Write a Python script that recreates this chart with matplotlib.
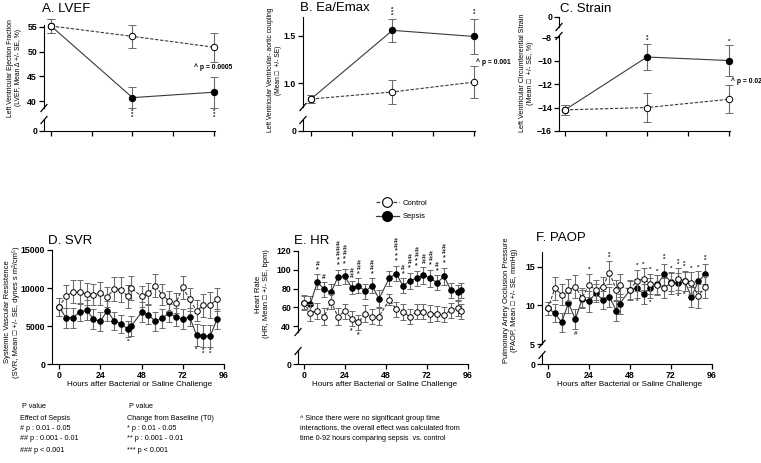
import matplotlib.pyplot as plt
from matplotlib.lines import Line2D
from matplotlib import font_manager

plt.rcParams['font.family'] = ['Liberation Sans', 'DejaVu Sans']

_names = {f.name for f in font_manager.fontManager.ttflist}
NARROW = ['Liberation Sans Narrow', 'Liberation Sans', 'DejaVu Sans'] \
    if 'Liberation Sans Narrow' in _names else ['Liberation Sans', 'DejaVu Sans']

W, H = 761, 463

# ---------------- data ----------------
top_x = [0, 2, 4]

lvef_ctrl = [55.2, 53.1, 50.9]
lvef_ctrl_se = [1.4, 2.3, 2.9]
lvef_seps = [55.2, 40.7, 41.8]
lvef_seps_se = [1.4, 2.1, 3.1]
lvef_marks = [(2, '***', '', 'below'), (4, '***', '', 'below')]

ea_ctrl = [0.83, 0.905, 1.01]
ea_ctrl_se = [0.04, 0.13, 0.17]
ea_seps = [0.83, 1.56, 1.495]
ea_seps_se = [0.04, 0.12, 0.19]
ea_marks = [(2, '***', '', 'above'), (4, '**', '', 'above')]

strain_ctrl = [-14.2, -14.0, -13.3]
strain_ctrl_se = [0.4, 1.2, 1.2]
strain_seps = [-14.2, -9.7, -10.0]
strain_seps_se = [0.4, 1.1, 1.3]
strain_marks = [(2, '**', '', 'above'), (4, '*', '', 'above')]

svr_hours = [0, 4, 8, 12, 16, 20, 24, 28, 32, 36, 40, 42, 48, 52, 56, 60, 64, 68, 72, 76, 80, 84, 88, 92]
svr_ctrl = [7500, 8900, 9500, 9500, 9200, 9100, 9300, 8800, 9900, 9800, 8900, 10000,
            8900, 9300, 10300, 9100, 8300, 8000, 10100, 8500, 7000, 7700, 7800, 8500]
svr_ctrl_se = [1200, 1500, 1500, 1600, 1500, 1400, 1500, 1300, 1600, 1600, 1500, 1600,
               1400, 1400, 1500, 1400, 1300, 1300, 1500, 1500, 1400, 1500, 1700, 1500]
svr_seps = [7500, 6100, 6100, 6800, 7100, 5900, 5600, 7000, 5700, 5300, 4600, 5000,
            6800, 6500, 5600, 6000, 6700, 6200, 5900, 6200, 3800, 3700, 3700, 5900]
svr_seps_se = [1200, 1300, 1300, 1200, 1300, 1300, 1200, 1300, 1200, 1200, 1100, 1300,
               1300, 1200, 1200, 1300, 1200, 1200, 1300, 1200, 1400, 1400, 1400, 1300]
svr_marks = [(40, '*', '', 'below'), (80, '*', '', 'below'), (84, '**', '', 'below'),
             (88, '**', '', 'below')]

hr_hours = [0, 4, 8, 12, 16, 20, 24, 28, 32, 36, 40, 44, 50, 54, 58, 62, 66, 70, 74, 78, 82, 86, 90, 92]
hr_ctrl = [65, 54, 56, 50, 66, 50, 56, 48, 44, 53, 50, 50,
           68, 58, 55, 50, 55, 55, 53, 53, 52, 57, 59, 56]
hr_ctrl_se = [7, 9, 9, 9, 8, 9, 8, 8, 8, 9, 8, 9, 6, 8, 9, 8, 8, 8, 9, 8, 8, 8, 8, 8]
hr_seps = [65, 64, 87, 79, 76, 92, 93, 81, 83, 77, 83, 69,
           91, 96, 83, 88, 91, 94, 91, 86, 93, 78, 76, 78]
hr_seps_se = [8, 8, 8, 8, 9, 8, 8, 7, 8, 8, 8, 9, 8, 8, 8, 9, 8, 9, 9, 8, 9, 8, 8, 8]
hr_marks = [(8, '*', '#', 'above'), (12, '', '#', 'above'), (20, '**', '###', 'above'),
            (24, '**', '##', 'above'), (28, '', '##', 'above'), (32, '*', '##', 'above'),
            (40, '*', '##', 'above'), (54, '***', '##', 'above'), (58, '*', '#', 'above'),
            (62, '*', '##', 'above'), (66, '**', '##', 'above'), (70, '', '##', 'above'),
            (74, '*', '##', 'above'), (78, '*', '#', 'above'), (82, '**', '##', 'above'),
            (28, '*', '', 'below'), (32, '*', '', 'below')]

paop_hours = [0, 4, 8, 12, 16, 20, 24, 28, 32, 36, 40, 42, 48, 52, 56, 60, 64, 68, 72, 76, 80, 84, 88, 92]
paop_ctrl = [9.6, 12.2, 11.4, 12.0, 12.4, 11.0, 12.6, 12.0, 12.4, 14.2, 12.0, 12.6,
             12.0, 13.2, 13.4, 12.8, 12.6, 12.2, 12.9, 13.4, 13.2, 12.9, 11.2, 12.4]
paop_ctrl_se = [0.8, 1.5, 1.4, 1.4, 1.5, 1.2, 1.5, 1.3, 1.3, 1.5, 1.3, 1.5,
                1.3, 1.4, 1.4, 1.3, 1.3, 1.3, 1.4, 1.4, 1.3, 1.4, 1.5, 1.4]
paop_seps = [9.6, 9.0, 7.8, 10.3, 8.2, 10.8, 10.5, 11.6, 10.7, 11.1, 9.3, 10.2,
             12.0, 12.2, 11.5, 12.2, 12.7, 14.0, 13.0, 12.9, 13.1, 11.1, 13.1, 14.0]
paop_seps_se = [0.8, 1.2, 1.2, 1.3, 1.3, 1.2, 1.3, 1.2, 1.2, 1.3, 1.3, 1.3,
                1.2, 1.2, 1.3, 1.3, 1.2, 1.4, 1.2, 1.3, 1.2, 1.3, 1.3, 1.3]
paop_marks = [(16, '', '#', 'below'), (24, '*', '', 'above'), (36, '**', '', 'above'),
              (52, '*', '', 'above'), (56, '*', '', 'above'), (60, '*', '', 'above'),
              (64, '*', '', 'above'), (68, '**', '', 'above'), (72, '*', '', 'above'),
              (76, '**', '', 'above'), (80, '**', '', 'above'), (84, '*', '', 'above'),
              (88, '*', '', 'above'), (92, '**', '', 'above'),
              (52, '*', '', 'below'), (60, '*', '', 'below'), (76, '*', '', 'below'),
              (80, '*', '', 'below')]

LINE = '#3a3a3a'
ERR = '#6a6a6a'

fig = plt.figure(figsize=(W / 100, H / 100), dpi=100)


def px_axes(x0, y0, x1, y1):
    ax = fig.add_axes([x0 / W, 1 - y1 / H, (x1 - x0) / W, (y1 - y0) / H])
    ax.patch.set_alpha(0)
    for s in ['top', 'right']:
        ax.spines[s].set_visible(False)
    ax.tick_params(length=3.5, width=0.9, pad=1.5, labelsize=6.3)
    ax._px = (x1 - x0, y1 - y0)
    return ax


def boldticks(ax):
    for lab in ax.get_xticklabels() + ax.get_yticklabels():
        lab.set_fontweight('bold')


def slash(ax, yfrac):
    w, h = ax._px
    dx, dy = 3.0 / w, 3.5 / h
    ax.plot([-dx, dx], [yfrac - dy, yfrac + dy], transform=ax.transAxes,
            color='black', lw=0.9, clip_on=False)


def draw(ax, x, c, cse, s, sse, marks, cap, ms, fs, ls):
    ax.errorbar(x, s, yerr=sse, fmt='-o', color=LINE, lw=0.8, ecolor=ERR, elinewidth=0.8,
                capsize=cap, capthick=0.8, ms=ms, mfc='black', mec='black', mew=0.7,
                clip_on=False, zorder=3)
    ax.errorbar(x, c, yerr=cse, fmt='--o', color=LINE, lw=0.8, dashes=(3, 1.5), ecolor=ERR,
                elinewidth=0.8, capsize=cap, capthick=0.8, ms=ms, mfc='white', mec='black',
                mew=0.7, clip_on=False, zorder=4)
    for t, stars, hashes, where in marks:
        i = list(x).index(t)
        text = '\n'.join(list(hashes) + list(stars))
        if where == 'above':
            y = max(c[i] + cse[i], s[i] + sse[i])
            off, va = 1.0, 'bottom'
        else:
            y = min(c[i] - cse[i], s[i] - sse[i])
            off, va = -1.0, 'top'
        ax.annotate(text, (t, y), xytext=(0, off), textcoords='offset points',
                    ha='center', va=va, fontsize=fs, fontweight='bold',
                    linespacing=ls, annotation_clip=False, color='#222222')


def top_panel(main, stub, c, cse, s, sse, marks, xl):
    for ax in (main, stub):
        ax.set_xlim(xl)
    draw(main, top_x, c, cse, s, sse, marks, 3.0, 4.6, 4.5, 0.45)
    main.set_xticks([])


# ---------------- A. LVEF ----------------
a_main = px_axes(44, 25, 215, 108)
a_stub = px_axes(44, 120, 215, 131)
top_panel(a_main, a_stub, lvef_ctrl, lvef_ctrl_se, lvef_seps, lvef_seps_se, lvef_marks,
          (-0.172, 4.025))
a_main.set_ylim(38.6, 55.4)
a_main.set_yticks([40, 45, 50, 55])
a_main.spines['bottom'].set_visible(False)
a_stub.set_ylim(0, 1)
a_stub.set_yticks([0])
a_stub.set_xticks([0, 1, 2, 3, 4])
a_stub.set_xticklabels([])
slash(a_main, 0)
slash(a_stub, 1)

# ---------------- B. Ea/Emax ----------------
b_main = px_axes(303, 17, 475, 107)
b_stub = px_axes(303, 120, 475, 131)
top_panel(b_main, b_stub, ea_ctrl, ea_ctrl_se, ea_seps, ea_seps_se, ea_marks,
          (-0.196, 4.025))
b_main.set_ylim(0.745, 1.702)
b_main.set_yticks([1.0, 1.5])
b_main.set_yticklabels(['1.0', '1.5'])
b_main.spines['bottom'].set_visible(False)
b_stub.set_ylim(0, 1)
b_stub.set_yticks([0])
b_stub.set_xticks([0, 1, 2, 3, 4])
b_stub.set_xticklabels([])
slash(b_main, 0)
slash(b_stub, 1)

# ---------------- C. Strain ----------------
c_main = px_axes(559, 36, 730, 131)
c_stub = px_axes(559, 17, 730, 27)
top_panel(c_main, c_stub, strain_ctrl, strain_ctrl_se, strain_seps, strain_seps_se,
          strain_marks, (-0.146, 4.025))
c_main.set_ylim(-16, -7.91)
c_main.set_yticks([-16, -14, -12, -10, -8])
c_main.set_xticks([0, 1, 2, 3, 4])
c_main.set_xticklabels([])
c_stub.set_ylim(-1, 0)
c_stub.set_yticks([0])
c_stub.set_xticks([])
c_stub.spines['bottom'].set_visible(False)
slash(c_main, 1)
slash(c_stub, 0)

# ---------------- D. SVR ----------------
d_ax = px_axes(52, 250, 224, 364)
d_ax.set_xlim(-4.1, 96)
d_ax.set_ylim(0, 15000)
draw(d_ax, svr_hours, svr_ctrl, svr_ctrl_se, svr_seps, svr_seps_se, svr_marks,
     2.0, 4.0, 4.5, 0.5)
d_ax.set_yticks([0, 5000, 10000, 15000])
d_ax.set_xticks([0, 24, 48, 72, 96])

# ---------------- E. HR ----------------
e_main = px_axes(298, 251, 468, 332)
e_stub = px_axes(298, 351, 468, 364)
for ax in (e_main, e_stub):
    ax.set_xlim(-3.3, 96)
draw(e_main, hr_hours, hr_ctrl, hr_ctrl_se, hr_seps, hr_seps_se, hr_marks,
     2.0, 4.0, 4.8, 0.6)
e_main.set_ylim(33.6, 120)
e_main.set_yticks([40, 60, 80, 100, 120])
e_main.set_xticks([])
e_main.spines['bottom'].set_visible(False)
e_stub.set_ylim(0, 1)
e_stub.set_yticks([0])
e_stub.set_xticks([0, 24, 48, 72, 96])
slash(e_main, 0)
slash(e_stub, 1)

# ---------------- F. PAOP ----------------
f_main = px_axes(542, 252, 712, 344)
f_stub = px_axes(542, 355, 712, 364)
for ax in (f_main, f_stub):
    ax.set_xlim(-3.5, 96)
draw(f_main, paop_hours, paop_ctrl, paop_ctrl_se, paop_seps, paop_seps_se, paop_marks,
     2.0, 4.0, 4.5, 0.5)
f_main.set_ylim(5, 16.9)
f_main.set_yticks([5, 10, 15])
f_main.set_xticks([])
f_main.spines['bottom'].set_visible(False)
f_stub.set_ylim(0, 1)
f_stub.set_yticks([0])
f_stub.set_xticks([0, 24, 48, 72, 96])
slash(f_main, 0)
slash(f_stub, 1)

for ax in fig.axes:
    boldticks(ax)

# ---------------- texts ----------------
titles = [('A. LVEF', 42, 9), ('B. Ea/Emax', 300, 8), ('C. Strain', 560, 9),
          ('D. SVR', 48, 241), ('E. HR', 294, 241), ('F. PAOP', 536, 238)]
for t, x, y in titles:
    fig.text(x / W, 1 - y / H, t, fontsize=9.5, ha='left', va='center')

ylabels = [('Left Ventricular Ejection Fraction\n(LVEF, Mean \u0394 +/- SE, %)', 15, 68, 4.9),
           ('Left Ventricular Ventricular- aortic coupling\n(Mean \u25a1  +/- SE)', 274, 70, 4.8),
           ('Left Ventricular Circumferential Strain\n(Mean \u25a1  +/- SE, %)', 526, 73, 5.1),
           ('Systemic Vascular Resistence\n(SVR, Mean \u25a1 +/- SE, dynes s m\u00b2/cm\u2075)', 12, 312, 5.5),
           ('Heart Rate\n(HR, Mean \u25a1 +/- SE, bpm)', 262, 294, 5.5),
           ('Pulmonary Artery Occlusion Pressure\n(PAOP, Mean \u25a1 +/- SE, mmHg)', 510, 300, 5.4)]
for t, x, y, fs in ylabels:
    fig.text(x / W, 1 - y / H, t, fontsize=fs, rotation=90, ha='center', va='center',
             family=NARROW, linespacing=1.2)

for x in (140, 385, 630):
    fig.text(x / W, 1 - 385 / H, 'Hours after Bacterial or Saline Challenge', fontsize=5.8,
             ha='center', va='center', family=NARROW)

pvals = [('^ p = 0.0005', 194, 67), ('^ p = 0.001', 476, 62), ('^ p = 0.02', 731, 81)]
for t, x, y in pvals:
    fig.text(x / W, 1 - y / H, t, fontsize=4.9, fontweight='bold', ha='left', va='center')

# legend
handles = [Line2D([], [], color=LINE, lw=0.9, ls='--', dashes=(3, 1.5), marker='o', ms=7,
                  mfc='white', mec='black', mew=0.8),
           Line2D([], [], color=LINE, lw=0.9, marker='o', ms=7, mfc='black', mec='black')]
fig.legend(handles, ['Control', 'Sepsis'], loc='center left',
           bbox_to_anchor=(372 / W, 1 - 210 / H), frameon=False,
           handlelength=3.0, labelspacing=0.75, handletextpad=0.5, borderpad=0,
           prop={'family': NARROW, 'size': 5.5})

# footnotes
col1 = [' P value', 'Effect of Sepsis', '# p : 0.01 - 0.05', '## p : 0.001 - 0.01',
        '### p < 0.001']
col2 = [' P value', 'Change from Baseline (T0)', '* p : 0.01 - 0.05', '** p : 0.001 - 0.01',
        '*** p < 0.001']
col3 = ['^ Since there were no significant group time',
        'interactions, the overall effect was calculated from',
        'time 0-92 hours comparing sepsis  vs. control']
rows = [407, 418, 428, 439, 450]
for i, t in enumerate(col1):
    fig.text(20 / W, 1 - rows[i] / H, t, fontsize=5.2, family=NARROW, va='center')
for i, t in enumerate(col2):
    fig.text(127 / W, 1 - rows[i] / H, t, fontsize=5.2, family=NARROW, va='center')
for i, t in enumerate(col3):
    fig.text(300 / W, 1 - rows[i + 1] / H, t, fontsize=5.2, family=NARROW, va='center')

fig.savefig('out.png', dpi=100)
